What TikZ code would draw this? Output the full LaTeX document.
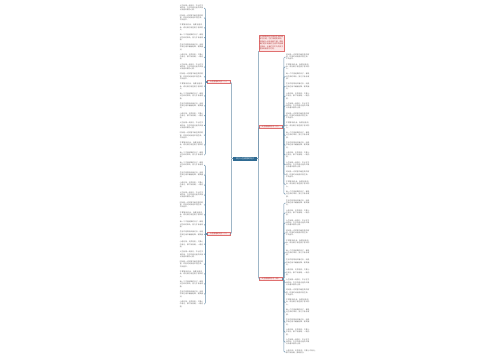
\documentclass[tikz,border=0pt]{standalone}
\usepackage{fontspec}
\setmainfont{Noto Sans CJK SC}
\XeTeXlinebreaklocale "zh"
\XeTeXlinebreakskip = 0pt plus 0.5pt
\definecolor{cblue}{HTML}{2E6A92}
\definecolor{pinkfill}{HTML}{FCE6E6}
\definecolor{pinkline}{HTML}{E07070}
\definecolor{redtext}{HTML}{B03030}
\definecolor{leafgray}{HTML}{666666}
\definecolor{lineblue}{HTML}{6A8FAA}
\newcommand\leaftxt[1]{\ifcase#1 人生就像一场旅行，不必在乎目的地，在乎的是沿途的风景以及看风景的心情。\or 时间是一切财富中最宝贵的财富，珍惜时间就是珍惜生命，不负韶华。\or 不要等待机会，而要创造机会，成功属于那些勇于尝试的人。\or 每一个不曾起舞的日子，都是对生命的辜负，努力才会有收获。\or 生活不是等待风暴过去，而是学会在雨中翩翩起舞，微笑面对。\or 心若向阳，无畏悲伤；只要心中有光，脚下就有路，一路向前。\fi}
\begin{document}
\begin{tikzpicture}[x=1pt,y=-1pt]
\tikzset{
 leaf/.style={text width=23.5pt, inner sep=0.4pt, text=leafgray, align=left, font=\fontsize{1.75}{2.3}\selectfont},
 branch/.style={fill=pinkfill, draw=pinkline, line width=0.3pt, text=redtext, minimum width=23pt, minimum height=3pt, inner sep=0.4pt, font=\fontsize{1.8}{2}\selectfont},
 root/.style={fill=cblue, text=white, minimum width=24pt, minimum height=4pt, inner sep=0.5pt, font=\fontsize{2}{2.2}\selectfont},
 note/.style={fill=pinkfill, draw=pinkline, line width=0.3pt, text=redtext, text width=24pt, minimum height=16pt, inner sep=0.8pt, align=left, font=\fontsize{1.8}{2.5}\selectfont},
 conn/.style={draw=lineblue, line width=0.5pt, rounded corners=1pt}
}
\useasboundingbox[fill=white] (0,0) rectangle (500,360);
\node[root] (C) at (245,158.5) {关于人生感悟的句子};
\node[branch] (L1) at (219,82) {人生感悟的句子（一）};
\node[branch] (L2) at (219,234) {人生感悟的句子（二）};
\node[branch] (R1) at (270.7,127) {人生感悟的句子（三）};
\node[branch] (R2) at (270.7,279) {人生感悟的句子（四）};
\node[note] (P) at (271.5,43) {人生感悟的句子是对生活的思考与总结，它们简短而深刻，能够给人以启迪和力量，帮助我们更好地面对生活中的困难与挑战，让我们在平凡的日子里找到前进的方向。};
\draw[conn] (C.west) -- ++(-1.5,0) |- (L1.east);
\draw[conn] (C.west) -- ++(-1.5,0) |- (L2.east);
\draw[conn] (C.east) -- ++(1.5,0) |- (R1.west);
\draw[conn] (C.east) -- ++(1.5,0) |- (R2.west);
\draw[conn] (C.east) -- ++(1.5,0) -- (P.south west);
% left group 1
\foreach \i in {0,...,15}{
  \pgfmathsetmacro\yy{8+\i*9.8}
  \pgfmathtruncatemacro\k{mod(\i,6)}
  \node[leaf, anchor=east] (a\i) at (204,\yy) {\leaftxt{\k}};
  \draw[conn] (L1.west) -- ++(-2,0) |- (a\i.east);
}
% left group 2
\foreach \i in {0,...,14}{
  \pgfmathsetmacro\yy{165+\i*9.93}
  \pgfmathtruncatemacro\k{mod(\i+3,6)}
  \node[leaf, anchor=east] (b\i) at (204,\yy) {\leaftxt{\k}};
  \draw[conn] (L2.west) -- ++(-2,0) |- (b\i.east);
}
% right group 1
\foreach \i in {0,...,14}{
  \pgfmathsetmacro\yy{57+\i*9.79}
  \pgfmathtruncatemacro\k{mod(\i+1,6)}
  \node[leaf, anchor=west] (c\i) at (285.5,\yy) {\leaftxt{\k}};
  \draw[conn] (R1.east) -- ++(1.5,0) |- (c\i.west);
}
% right group 2
\foreach \i in {0,...,14}{
  \pgfmathsetmacro\yy{203+\i*9.93}
  \pgfmathtruncatemacro\k{mod(\i+4,6)}
  \node[leaf, anchor=west] (d\i) at (285.5,\yy) {\leaftxt{\k}};
  \draw[conn] (R2.east) -- ++(1.5,0) |- (d\i.west);
}
\node[leaf, text width=31pt, anchor=west] (d15) at (285.5,352) {心若向阳，无畏悲伤；只要心中有光，脚下就有路，勇敢前行。};
\draw[conn] (R2.east) -- ++(1.5,0) |- (d15.west);
\end{tikzpicture}
\end{document}
